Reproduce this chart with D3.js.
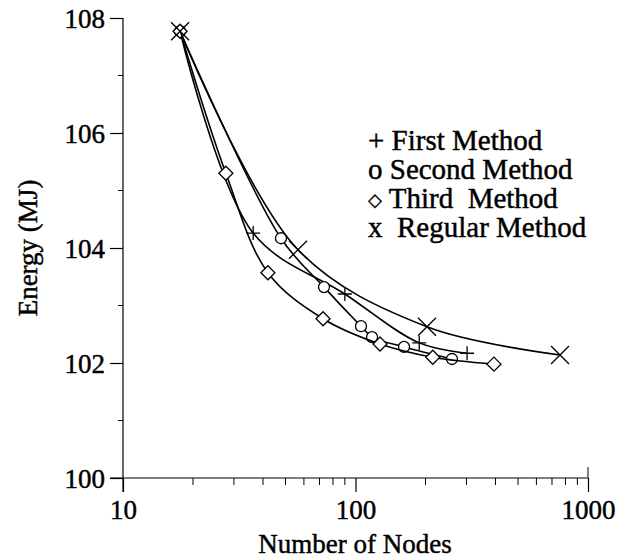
<!DOCTYPE html>
<html>
<head>
<meta charset="utf-8">
<script src="https://cdn.jsdelivr.net/npm/d3@7"></script>
<style>
  body { margin: 0; background: #fff; }
  text { font-family: "Liberation Serif", "Times New Roman", serif; fill: #000; stroke: #000; stroke-width: 0.45px; }
</style>
</head>
<body>
<svg width="626" height="560"></svg>
<script>
// values
var firstNodes = [17.6, 36.3, 90, 188, 302];
var firstEnergy = [107.77, 104.26, 103.2, 102.35, 102.17];

var secondNodes = [17.6, 47.8, 73.2, 105.6, 117.8, 161.7, 260];
var secondEnergy = [107.77, 104.17, 103.32, 102.64, 102.45, 102.28, 102.07];

var thirdNodes = [17.6, 27.7, 42, 72.5, 127.5, 215, 394];
var thirdEnergy = [107.77, 105.3, 103.57, 102.77, 102.33, 102.1, 101.98];

var regularNodes = [17.6, 56.6, 203, 758];
var regularEnergy = [107.77, 103.97, 102.63, 102.14];

var xTicks = [10, 100, 1000];
var yTicks = [100, 102, 104, 106, 108];
var legendSymbols = ["+", "o", "\u25C7", "x"];
var legendLabels = [" First Method", " Second Method", " Third  Method", "  Regular Method"];

var svg = d3.select("svg");

var x = d3.scaleLog().domain([10, 1000]).range([123, 588]);
var y = d3.scaleLinear().domain([100, 108]).range([478, 18]);

// y axis
var yAxis = d3.axisLeft(y).tickValues(yTicks).tickSize(13).tickFormat(d3.format("d"));
var gy = svg.append("g").attr("transform", "translate(123,0)").call(yAxis);
gy.select(".domain").attr("d", "M0," + y(108) + "V" + (y(100) + 14));
gy.selectAll(".tick text").attr("x", -18).style("font-size", "27px").attr("dy", "0.35em");
svg.append("g").selectAll("line")
  .data([101, 103, 105, 107])
  .enter().append("line")
  .attr("x1", 118).attr("x2", 123)
  .attr("y1", function(d) { return y(d); })
  .attr("y2", function(d) { return y(d); })
  .attr("stroke", "#000");

// x axis
var xAxis = d3.axisBottom(x).tickValues(xTicks).tickSize(14).tickFormat(d3.format("d"));
var gx = svg.append("g").attr("transform", "translate(0," + y(100) + ")").call(xAxis);
gx.select(".domain").attr("d", "M110,0H" + x(1000));
gx.selectAll(".tick text").attr("y", 22).style("font-size", "27px");
var minors = [];
[10, 100].forEach(function(b) { for (var k = 2; k <= 9; k++) minors.push(b * k); });
svg.append("g").selectAll("line")
  .data(minors)
  .enter().append("line")
  .attr("x1", function(d) { return x(d); })
  .attr("x2", function(d) { return x(d); })
  .attr("y1", y(100)).attr("y2", y(100) + 7)
  .attr("stroke", "#000");
svg.append("line")
  .attr("x1", x(1000)).attr("x2", x(1000))
  .attr("y1", y(100) - 11).attr("y2", y(100))
  .attr("stroke", "#000");

svg.selectAll(".domain, .tick line").attr("stroke", "#000").attr("stroke-width", 1.2);

// titles
svg.append("text")
  .attr("x", 355).attr("y", 553)
  .attr("text-anchor", "middle")
  .style("font-size", "27px")
  .text("Number of Nodes");
svg.append("text")
  .attr("transform", "translate(37,248) rotate(-90)")
  .attr("text-anchor", "middle")
  .style("font-size", "27px")
  .text("Energy (MJ)");

// series
var series = [
  { nodes: firstNodes, energy: firstEnergy, mark: "plus" },
  { nodes: secondNodes, energy: secondEnergy, mark: "circle" },
  { nodes: thirdNodes, energy: thirdEnergy, mark: "diamond" },
  { nodes: regularNodes, energy: regularEnergy, mark: "cross" }
];

var line = d3.line()
  .x(function(d) { return x(d[0]); })
  .y(function(d) { return y(d[1]); })
  .curve(d3.curveCatmullRom.alpha(0.5));

var markPath = {
  plus: "M-7,0H7M0,-7V7",
  circle: "M5.5,0A5.5,5.5,0,1,1,-5.5,0A5.5,5.5,0,1,1,5.5,0Z",
  diamond: "M0,-7L7,0L0,7L-7,0Z",
  cross: "M-9,-9L9,9M-9,9L9,-9"
};

series.forEach(function(s) {
  var pts = d3.zip(s.nodes, s.energy);
  svg.append("path")
    .datum(pts)
    .attr("fill", "none")
    .attr("stroke", "#000")
    .attr("stroke-width", 1.6)
    .attr("d", line);
  svg.append("g").selectAll("path")
    .data(pts)
    .enter().append("path")
    .attr("transform", function(d) { return "translate(" + x(d[0]) + "," + y(d[1]) + ")"; })
    .attr("d", markPath[s.mark])
    .attr("fill", s.mark === "plus" || s.mark === "cross" ? "none" : "#fff")
    .attr("stroke", "#000")
    .attr("stroke-width", 1.3);
});

// legend
var leg = svg.append("g").selectAll("text")
  .data(legendLabels)
  .enter().append("text")
  .attr("x", 368)
  .attr("y", function(d, i) { return 150 + i * 29; })
  .style("font-size", "29px")
  .attr("xml:space", "preserve")
  .style("white-space", "pre");
leg.append("tspan")
  .style("font-size", function(d, i) { return i === 2 ? "18px" : "29px"; })
  .attr("dy", function(d, i) { return i === 2 ? "-2" : "0"; })
  .text(function(d, i) { return legendSymbols[i]; });
leg.append("tspan")
  .attr("dy", function(d, i) { return i === 2 ? "2" : "0"; })
  .text(function(d) { return d; });
</script>
</body>
</html>
